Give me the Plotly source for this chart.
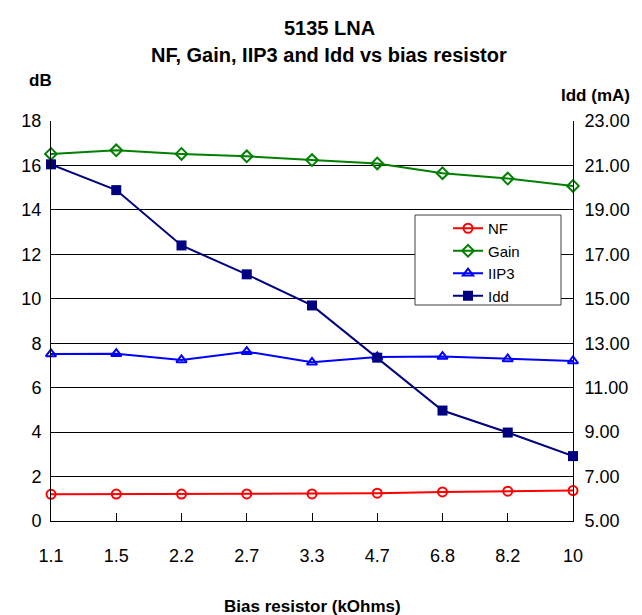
import plotly.graph_objects as go

# Data
resistor = ["1.1", "1.5", "2.2", "2.7", "3.3", "4.7", "6.8", "8.2", "10"]
nf = [1.20, 1.21, 1.21, 1.22, 1.22, 1.25, 1.31, 1.34, 1.37]
gain = [16.52, 16.68, 16.52, 16.41, 16.24, 16.09, 15.65, 15.41, 15.08]
iip3 = [7.52, 7.53, 7.25, 7.62, 7.14, 7.38, 7.40, 7.29, 7.20]
idd = [21.05, 19.89, 17.40, 16.10, 14.70, 12.35, 9.97, 8.98, 7.92]

FONT = "Liberation Sans Narrow, Arial Narrow, Arial, Liberation Sans, sans-serif"
W, H = 642, 615
L, R, T, B = 43, 77, 113, 102


def px(x):
    return (x - L) / (W - L - R)


def py(y):
    return (H - B - y) / (H - T - B)


fig = go.Figure()

fig.add_trace(go.Scatter(x=resistor, y=nf, name="NF", mode="lines+markers",
                         line=dict(color="#FF0000", width=2),
                         marker=dict(symbol="circle-open", size=9, color="#FF0000", line=dict(width=2)),
                         cliponaxis=False))
fig.add_trace(go.Scatter(x=resistor, y=gain, name="Gain", mode="lines+markers",
                         line=dict(color="#008000", width=2),
                         marker=dict(symbol="diamond-open", size=9, color="#008000", line=dict(width=2)),
                         cliponaxis=False))
fig.add_trace(go.Scatter(x=resistor, y=iip3, name="IIP3", mode="lines+markers",
                         line=dict(color="#0000FF", width=2),
                         marker=dict(symbol="triangle-up-open", size=9, color="#0000FF", line=dict(width=2)),
                         cliponaxis=False))
fig.add_trace(go.Scatter(x=resistor, y=idd, name="Idd", mode="lines+markers", yaxis="y2",
                         line=dict(color="#000080", width=2),
                         marker=dict(symbol="square", size=10, color="#000080"),
                         cliponaxis=False))

fig.update_layout(
    width=W, height=H,
    margin=dict(l=L, r=R, t=T, b=B, autoexpand=False),
    paper_bgcolor="white", plot_bgcolor="white",
    font=dict(family=FONT, size=18, color="black"),
    showlegend=True,
    legend=dict(x=px(440), y=py(204), xanchor="left", yanchor="top",
                bgcolor="rgba(0,0,0,0)", borderwidth=0,
                font=dict(size=15), itemwidth=30, tracegroupgap=0),
    # legend frame, white so the grid does not run through it
    shapes=[dict(type="rect", xref="paper", yref="paper",
                 x0=px(407), x1=px(553), y0=py(207), y1=py(297),
                 fillcolor="white", line=dict(color="#404040", width=1), layer="above")],
    xaxis=dict(type="category", range=[0, 8], showgrid=False, automargin=False,
               showline=True, linecolor="black", linewidth=1,
               ticks="inside", ticklen=8, tickcolor="black",
               tickfont=dict(size=18), ticklabelstandoff=18),
    yaxis=dict(range=[0, 18], dtick=2, showgrid=True, gridcolor="black", gridwidth=1,
               showline=True, linecolor="black", linewidth=1, zeroline=False,
               automargin=False, tickfont=dict(size=18), ticks="", ticklabelstandoff=5),
    yaxis2=dict(range=[5, 23], tick0=5, dtick=2, overlaying="y", side="right",
                showgrid=False, showline=True, linecolor="black", linewidth=1,
                zeroline=False, automargin=False, tickformat=".2f",
                tickfont=dict(size=18), ticks="", ticklabelstandoff=7),
    annotations=[
        dict(text="<b>5135 LNA</b>", x=px(321), y=py(20), font=dict(size=20)),
        dict(text="<b>NF, Gain, IIP3 and Idd vs bias resistor</b>", x=px(321), y=py(47),
             font=dict(size=20)),
        dict(text="<b>dB</b>", x=px(32), y=py(73), font=dict(size=17)),
        dict(text="<b>Idd (mA)</b>", x=px(587), y=py(87), font=dict(size=17)),
        dict(text="<b>Bias resistor (kOhms)</b>", x=px(304), y=py(598), font=dict(size=17)),
    ],
)

fig.update_annotations(xref="paper", yref="paper", showarrow=False,
                       xanchor="center", yanchor="middle")

fig.write_html("out.html")
